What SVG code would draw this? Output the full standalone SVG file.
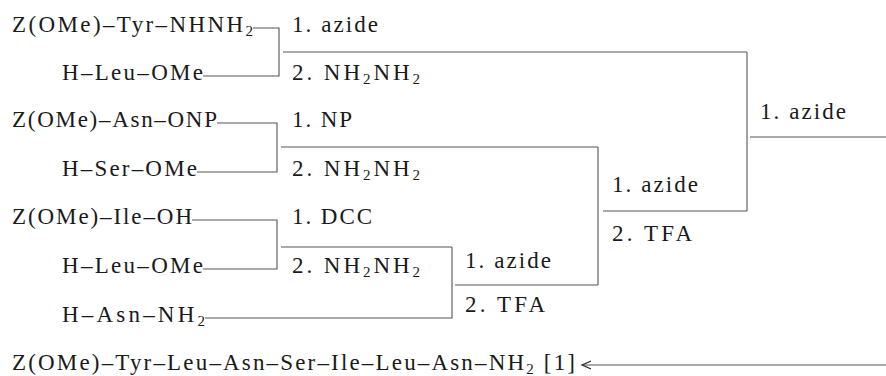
<svg xmlns="http://www.w3.org/2000/svg" width="886" height="376" viewBox="0 0 886 376">
  <style>
    .t { font-size: 23px; fill: #1a1a1a; }
    .sub { font-size: 15px; }
    .ln { fill: none; stroke: #555; stroke-width: 1.1; }
  </style>
  <defs>
    <marker id="head" markerUnits="userSpaceOnUse" markerWidth="12" markerHeight="12" refX="9" refY="5" orient="auto">
      <path d="M0,1 L9,5 L0,9" fill="none" stroke="#333" stroke-width="1.3"/>
    </marker>
  </defs>

  <rect width="886" height="376" fill="#fff"/>

  <g class="t" font-family="Liberation Serif, DejaVu Serif, serif">
  <!-- starting fragments -->
  <g id="tyr-hydrazide"><text x="12" y="32" textLength="241" lengthAdjust="spacing">Z(OMe)–Tyr–NHNH<tspan class="sub" dy="4">2</tspan></text></g>
  <g id="leu-ome-1"><text x="62" y="80" textLength="141" lengthAdjust="spacing">H–Leu–OMe</text></g>
  <g id="asn-onp"><text x="12" y="127" textLength="205" lengthAdjust="spacing">Z(OMe)–Asn–ONP</text></g>
  <g id="ser-ome"><text x="62" y="176" textLength="135" lengthAdjust="spacing">H–Ser–OMe</text></g>
  <g id="ile-oh"><text x="12" y="224" textLength="180" lengthAdjust="spacing">Z(OMe)–Ile–OH</text></g>
  <g id="leu-ome-2"><text x="62" y="273" textLength="141" lengthAdjust="spacing">H–Leu–OMe</text></g>
  <g id="asn-nh2"><text x="62" y="322" textLength="143" lengthAdjust="spacing">H–Asn–NH<tspan class="sub" dy="4">2</tspan></text></g>

  <!-- reaction steps -->
  <g id="step-a">
    <text x="292" y="32" textLength="86" lengthAdjust="spacing">1. azide</text>
    <text x="292" y="80" textLength="128" lengthAdjust="spacing">2. NH<tspan class="sub" dy="4">2</tspan><tspan dy="-4">NH</tspan><tspan class="sub" dy="4">2</tspan></text>
  </g>
  <g id="step-b">
    <text x="292" y="127" textLength="60" lengthAdjust="spacing">1. NP</text>
    <text x="292" y="176" textLength="128" lengthAdjust="spacing">2. NH<tspan class="sub" dy="4">2</tspan><tspan dy="-4">NH</tspan><tspan class="sub" dy="4">2</tspan></text>
  </g>
  <g id="step-c">
    <text x="292" y="224" textLength="80" lengthAdjust="spacing">1. DCC</text>
    <text x="292" y="273" textLength="128" lengthAdjust="spacing">2. NH<tspan class="sub" dy="4">2</tspan><tspan dy="-4">NH</tspan><tspan class="sub" dy="4">2</tspan></text>
  </g>
  <g id="step-d">
    <text x="465" y="268" textLength="86" lengthAdjust="spacing">1. azide</text>
    <text x="465" y="312" textLength="80" lengthAdjust="spacing">2. TFA</text>
  </g>
  <g id="step-e">
    <text x="612" y="192" textLength="86" lengthAdjust="spacing">1. azide</text>
    <text x="612" y="241" textLength="80" lengthAdjust="spacing">2. TFA</text>
  </g>
  <g id="step-f">
    <text x="760" y="119" textLength="86" lengthAdjust="spacing">1. azide</text>
  </g>

  <!-- final product -->
  <g id="product"><text x="12" y="370" textLength="563" lengthAdjust="spacing">Z(OMe)–Tyr–Leu–Asn–Ser–Ile–Leu–Asn–NH<tspan class="sub" dy="4">2</tspan><tspan dy="-4"> [1]</tspan></text></g>
  </g>

  <g id="connectors" class="ln">
    <!-- bracket a -->
    <path d="M253,28 H279 V76 H203"/>
    <path d="M283,52 H747"/>
    <!-- bracket b -->
    <path d="M217,123 H277 V172 H197"/>
    <path d="M281,147 H598"/>
    <!-- bracket c -->
    <path d="M192,220 H277 V269 H203"/>
    <path d="M281,247 H452"/>
    <!-- bracket d -->
    <path d="M452,247 V318 H205"/>
    <path d="M455,285 H598"/>
    <!-- bracket e -->
    <path d="M598,147 V285"/>
    <path d="M603,211 H747"/>
    <!-- bracket f -->
    <path d="M747,52 V211"/>
    <path d="M750,137 H886"/>
    <!-- return to product -->
    <path d="M886,365 H582" marker-end="url(#head)"/>
  </g>
</svg>
